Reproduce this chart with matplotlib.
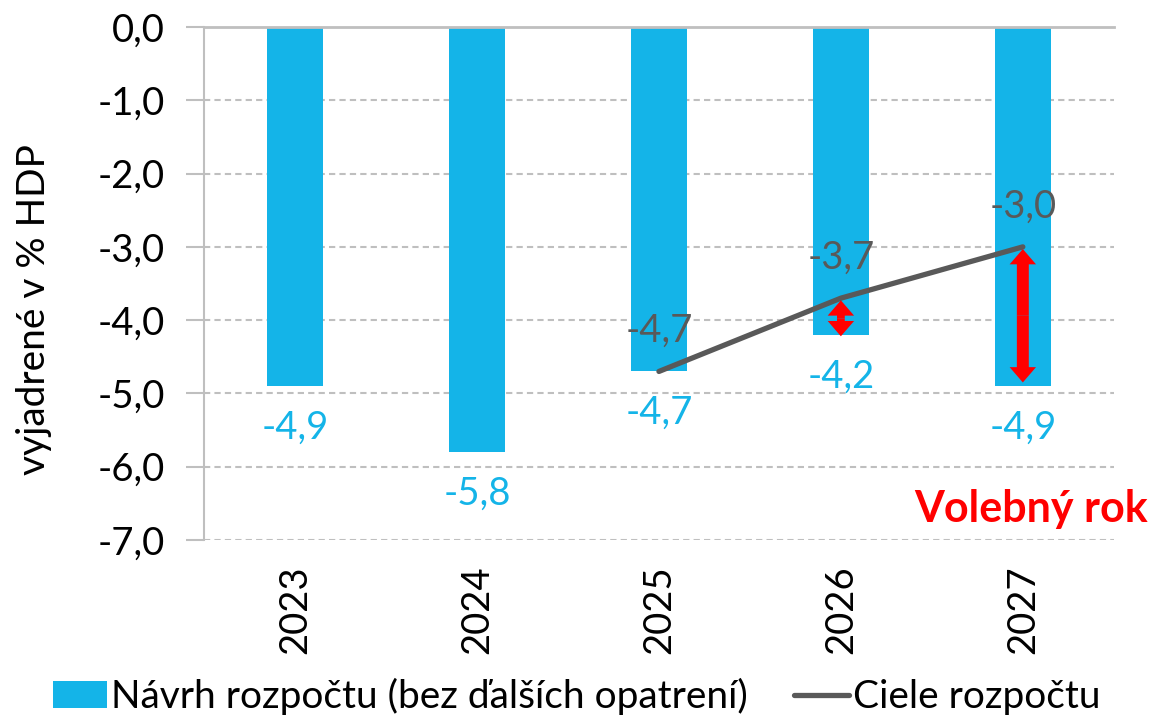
import numpy as np
import matplotlib.pyplot as plt
from matplotlib.patches import FancyArrowPatch

plt.rcParams['font.family'] = ['Lato', 'DejaVu Sans']

years = ['2023', '2024', '2025', '2026', '2027']
budget = [-4.9, -5.8, -4.7, -4.2, -4.9]
goal_years = ['2025', '2026', '2027']
goals = [-4.7, -3.7, -3.0]
arrow_years = ['2026', '2027']

blue = '#14B4E8'
grey = '#595959'


def fmt(v):
    return ('%.1f' % v).replace('.', ',')


fig = plt.figure(figsize=(11.53, 7.2), dpi=100)
ax = fig.add_axes([0.177, 0.25, 0.789, 0.7125])

x = np.arange(len(years))
bars = ax.bar(x, budget, width=0.31, color=blue, zorder=2,
              label='Návrh rozpočtu (bez ďalších opatrení)')

gx = [years.index(y) for y in goal_years]
line, = ax.plot(gx, goals, color=grey, lw=3.8, solid_capstyle='round', zorder=3,
                label='Ciele rozpočtu')

# data labels
for xi, v in zip(x, budget):
    ax.annotate(fmt(v), (xi, v), xytext=(0, -30), textcoords='offset points',
                ha='center', va='center', fontsize=27.5, color=blue)
for xi, v in zip(gx, goals):
    ax.annotate(fmt(v), (xi, v), xytext=(0, 29), textcoords='offset points',
                ha='center', va='center', fontsize=27.5, color=grey)

# red gap arrows, drawn as two filled arrows from the middle outwards
shaft = {'2026': 0.28, '2027': 0.43}
for y in arrow_years:
    i = years.index(y)
    top = goals[goal_years.index(y)] - 0.03
    bot = budget[i] + (0.05 if y == '2027' else -0.02)
    mid = (top + bot) / 2
    style = 'simple,tail_width=%.2f,head_width=0.95,head_length=0.55' % shaft[y]
    for end in (top, bot):
        ax.add_patch(FancyArrowPatch((i, mid), (i, end), arrowstyle=style,
                                     mutation_scale=20, color='red', lw=0,
                                     shrinkA=0, shrinkB=0, zorder=4))

ax.text(1.037, -6.58, 'Volebný rok', transform=ax.get_yaxis_transform(),
        ha='right', va='center', fontsize=31, fontweight='bold', color='red')

ax.set_xlim(-0.5, 4.5)
ax.set_ylim(-7, 0)
ax.set_yticks(np.arange(0, -7.5, -1))
ax.set_yticklabels([fmt(v) for v in np.arange(0, -7.5, -1)], fontsize=27.5)
ax.set_xticks(x)
ax.set_xticklabels(years, rotation=90, fontsize=27.5)
ax.tick_params(axis='x', length=0, pad=18)
ax.tick_params(axis='y', length=13, color='#BFBFBF', width=1.5, pad=15)

ax.grid(axis='y', color='#BFBFBF', ls=(0, (3, 2)), lw=1.5, zorder=0)
for s in ['right', 'bottom']:
    ax.spines[s].set_visible(False)
ax.spines['left'].set_color('#BFBFBF')
ax.spines['left'].set_linewidth(1.5)
ax.spines['top'].set_color('#BFBFBF')
ax.spines['top'].set_linewidth(2)

ax.set_ylabel('vyjadrené v % HDP', fontsize=28)
ax.yaxis.set_label_coords(-0.167, 0.45)

fig.legend(handles=[bars, line], loc='lower center', bbox_to_anchor=(0.5, -0.042),
           ncol=2, frameon=False, fontsize=28, handlelength=1.4, handleheight=0.7,
           handletextpad=0.1, columnspacing=1.2)

fig.savefig('out.png', dpi=100)
